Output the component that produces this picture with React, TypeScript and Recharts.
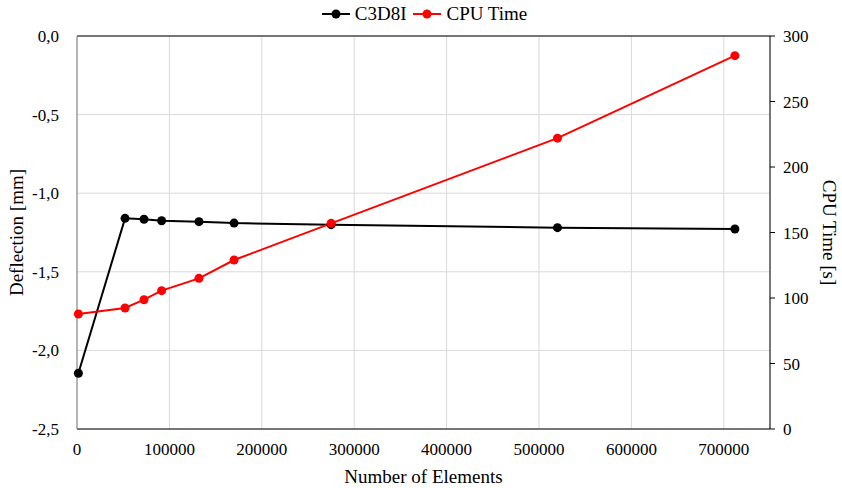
import React from "react";
import {
  ComposedChart, Line, XAxis, YAxis, CartesianGrid, ReferenceLine, Label,
} from "recharts";

const elements = [1500, 52000, 72500, 91600, 132000, 170000, 275000, 520000, 712000];
const deflection = [-2.145, -1.16, -1.166, -1.175, -1.181, -1.19, -1.2, -1.219, -1.228];
const cpuTime = [87.8, 92.4, 98.7, 105.6, 115, 129, 157, 222, 285];

const xTicks = [0, 100000, 200000, 300000, 400000, 500000, 600000, 700000];
const leftTicks = [-2.5, -2.0, -1.5, -1.0, -0.5, 0];
const rightTicks = [0, 50, 100, 150, 200, 250, 300];

const data = elements.map((n, i) => ({ n, deflection: deflection[i], cpu: cpuTime[i] }));

const FONT = "'Liberation Serif', 'Times New Roman', serif";
const tickStyle = { fontSize: 17, fill: "#000" };
const titleStyle = { fontSize: 19, fill: "#000" };

const comma = (v: number) => v.toFixed(1).replace(".", ",");

function LegendItem({ color, label }: { color: string; label: string }) {
  return (
    <span style={{ display: "inline-flex", alignItems: "center", marginRight: 6 }}>
      <svg width={30} height={12}>
        <line x1={1} y1={6} x2={29} y2={6} stroke={color} strokeWidth={2} />
        <circle cx={15} cy={6} r={4.5} fill={color} />
      </svg>
      <span style={{ marginLeft: 4 }}>{label}</span>
    </span>
  );
}

export default function App() {
  return (
    <div style={{
      position: "absolute", left: 0, top: 0, width: 842, height: 488, background: "#fff",
      fontFamily: FONT,
    }}>
      <style>{`.recharts-wrapper text, .recharts-wrapper tspan { font-family: ${FONT} !important; }`}</style>
      <ComposedChart width={842} height={488} data={data}
        margin={{ top: 36, right: 0, bottom: 0, left: 0 }}>
        <CartesianGrid yAxisId="left" stroke="#d9d9d9" strokeWidth={1} />
        <XAxis
          dataKey="n" type="number" domain={[0, 750000]} ticks={xTicks}
          tick={tickStyle} tickLine={false} axisLine={{ stroke: "#000" }}
          height={59} interval={0} tickMargin={8}
        >
          <Label value="Number of Elements" position="insideBottom" offset={5} style={titleStyle} />
        </XAxis>
        <YAxis
          yAxisId="left" domain={[-2.5, 0]} ticks={leftTicks} tickFormatter={comma}
          tick={tickStyle} tickLine={false} axisLine={{ stroke: "#7f7f7f" }} width={77} tickMargin={12}
        >
          <Label value="Deflection [mm]" angle={-90} position="insideLeft" offset={16}
            style={{ ...titleStyle, textAnchor: "middle" }} />
        </YAxis>
        <YAxis
          yAxisId="right" orientation="right" domain={[0, 300]} ticks={rightTicks}
          tick={tickStyle} tickLine={{ stroke: "#000" }} tickSize={5} axisLine={{ stroke: "#000" }}
          width={72} tickMargin={8}
        >
          <Label value="CPU Time [s]" angle={90} position="insideRight" offset={12}
            style={{ ...titleStyle, textAnchor: "middle" }} />
        </YAxis>
        <ReferenceLine yAxisId="left" y={0} stroke="#000" />
        <Line yAxisId="left" dataKey="deflection" stroke="#000" strokeWidth={2}
          dot={{ r: 4.5, fill: "#000", stroke: "#000", strokeWidth: 0 }} isAnimationActive={false} />
        <Line yAxisId="right" dataKey="cpu" stroke="#ff0000" strokeWidth={2}
          dot={{ r: 4.5, fill: "#ff0000", stroke: "#ff0000", strokeWidth: 0 }} isAnimationActive={false} />
      </ComposedChart>
      <div style={{
        position: "absolute", top: 3, left: 0, width: 842, display: "flex", justifyContent: "center",
        fontSize: 19, color: "#000", paddingLeft: 6,
      }}>
        <LegendItem color="#000" label="C3D8I" />
        <LegendItem color="#ff0000" label="CPU Time" />
      </div>
    </div>
  );
}
